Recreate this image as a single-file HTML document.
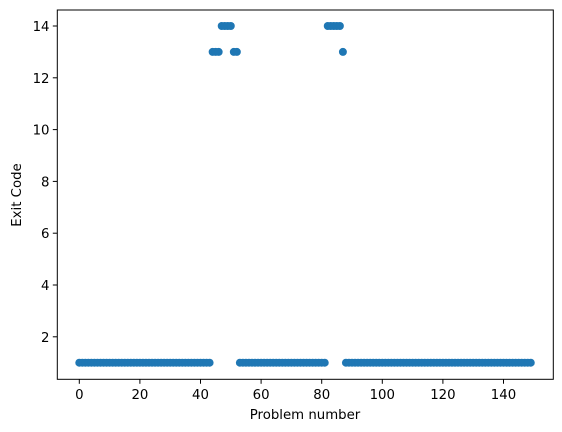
<!DOCTYPE html>
<html><head><meta charset="utf-8"><style>
body{margin:0;background:#fff}
svg{display:block;font-family:"DejaVu Sans","Liberation Sans",sans-serif}
</style></head><body>
<svg id="c" width="562" height="432">
<rect x="57.3" y="10" width="496" height="369.3" fill="#fff" stroke="#000" stroke-width="1"/>
<g id="pts"></g><g id="ax"></g>
<text x="305" y="419" font-size="13.3" text-anchor="middle">Problem number</text>
<text x="21" y="195" font-size="13.3" text-anchor="middle" transform="rotate(-90 21 195)">Exit Code</text>
</svg>
<script>
const ranges=[[0,43,1],[44,46,13],[47,50,14],[51,52,13],[53,81,1],[82,86,14],[87,87,13],[88,149,1]];
const xTicks=[0,20,40,60,80,100,120,140];
const yTicks=[2,4,6,8,10,12,14];
const problems=[],codes=[];
for(const r of ranges){for(let i=r[0];i<=r[1];i++){problems.push(i);codes.push(r[2]);}}
const X=v=>79.3+3.03*v, Y=v=>26+(14-v)*25.9;
const NS="http://www.w3.org/2000/svg";
const pts=document.getElementById('pts'),ax=document.getElementById('ax');
problems.forEach((p,i)=>{const c=document.createElementNS(NS,'circle');
c.setAttribute('cx',X(p));c.setAttribute('cy',Y(codes[i]));c.setAttribute('r',4);c.setAttribute('fill','#1f77b4');


pts.appendChild(c);});
xTicks.forEach(t=>{const l=document.createElementNS(NS,'line');l.setAttribute('x1',X(t));l.setAttribute('x2',X(t));l.setAttribute('y1',379.3);l.setAttribute('y2',383.8);l.setAttribute('stroke','#000');


ax.appendChild(l);
const s=document.createElementNS(NS,'text');s.setAttribute('x',X(t));s.setAttribute('y',399);s.setAttribute('font-size','13.3');s.setAttribute('text-anchor','middle');s.textContent=t;


ax.appendChild(s);});
yTicks.forEach(t=>{const l=document.createElementNS(NS,'line');l.setAttribute('x1',52.8);l.setAttribute('x2',57.3);l.setAttribute('y1',Y(t));l.setAttribute('y2',Y(t));l.setAttribute('stroke','#000');


ax.appendChild(l);
const s=document.createElementNS(NS,'text');s.setAttribute('x',49.5);s.setAttribute('y',Y(t)+5);s.setAttribute('font-size','13.3');s.setAttribute('text-anchor','end');s.textContent=t;


ax.appendChild(s);});
</script>
</body></html>
